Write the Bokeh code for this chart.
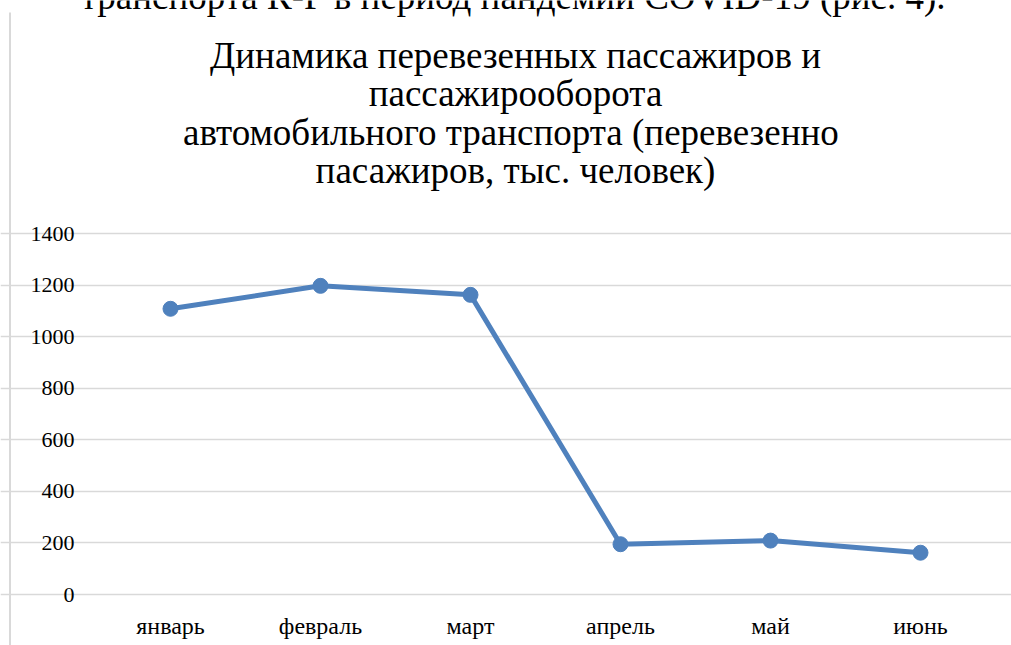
from bokeh.plotting import figure
from bokeh.models import Range1d, FixedTicker, LinearAxis, Grid
from bokeh.core.properties import value
from bokeh.embed import file_html
from bokeh.resources import INLINE

months = ["январь", "февраль", "март", "апрель", "май", "июнь"]
passengers = [1108, 1197, 1162, 195, 209, 162]
y_ticks = [0, 200, 400, 600, 800, 1000, 1200, 1400]
title_lines = [
    "Динамика перевезенных пассажиров и",
    "пассажирооборота",
    "автомобильного транспорта  (перевезенно",
    "пасажиров, тыс. человек)",
]
top_text = "транспорта К-Р в период пандемии COVID-19 (рис. 4)."

FONT = "Liberation Serif"
LINE = "#4f81bd"
W, H = 1011, 645

# page-pixel helpers: category i centred at 170 + 150 i, value 0 at y=594, 1400 at y=233
def xdata(px):
    return (px - 170) / 150.0


def ydata(py):
    return (594 - py) * 1400 / 361.0


x_idx = list(range(len(months)))

p = figure(width=W, height=H,
           x_range=Range1d(xdata(0), xdata(W)), y_range=Range1d(ydata(H), ydata(0)),
           x_axis_type=None, y_axis_type=None,
           min_border=0, min_border_left=0, min_border_right=0,
           min_border_top=0, min_border_bottom=0,
           output_backend="svg", toolbar_location=None,
           background_fill_color="white", border_fill_color="white")
p.outline_line_color = None

xaxis = LinearAxis(ticker=FixedTicker(ticks=x_idx),
                   major_label_overrides={i: m for i, m in zip(x_idx, months)},
                   fixed_location=0)
yaxis = LinearAxis(ticker=FixedTicker(ticks=y_ticks), fixed_location=xdata(95))
p.add_layout(xaxis, "below")
p.add_layout(yaxis, "left")

for ax, fs in ((xaxis, "24px"), (yaxis, "22px")):
    ax.axis_line_color = None
    ax.major_tick_line_color = None
    ax.minor_tick_line_color = None
    ax.major_label_text_font = FONT
    ax.major_label_text_font_size = fs
    ax.major_label_text_color = "#000000"
yaxis.major_label_standoff = 15
xaxis.major_label_standoff = 12

grid = Grid(dimension=1, ticker=FixedTicker(ticks=y_ticks),
            grid_line_color="#d9d9d9", grid_line_width=1.5,
            bounds=(xdata(95), xdata(995)))
p.add_layout(grid)

p.line(x_idx, passengers, line_color=LINE, line_width=5)
p.scatter(x_idx, passengers, size=15, fill_color=LINE, line_color=LINE)

# left border of the chart area
p.segment(x0=[xdata(9.5)], y0=[ydata(12)], x1=[xdata(9.5)], y1=[ydata(H + 5)],
          line_color="#d9d9d9", line_width=2)

SHIFT = 14
baselines = [69, 107, 146, 184]
p.text(x=[xdata(515)] * len(title_lines), y=[ydata(b - SHIFT) for b in baselines],
       text=title_lines, text_align="center", text_baseline="alphabetic",
       text_font=value(FONT), text_font_size="37px", text_color="#000000")

p.text(x=[xdata(945)], y=[ydata(10 - SHIFT)], text=[top_text],
       text_align="right", text_baseline="alphabetic",
       text_font=value(FONT), text_font_size="37px", text_color="#000000")

open("out.html", "w").write(file_html(p, INLINE))
